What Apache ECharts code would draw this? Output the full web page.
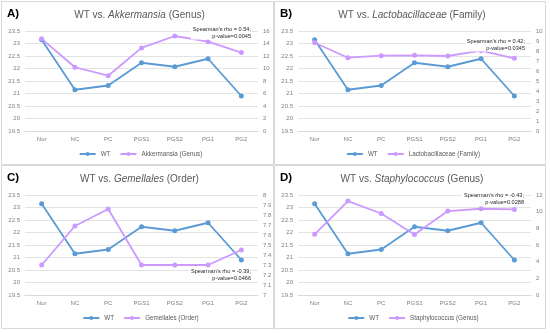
<!DOCTYPE html>
<html>
<head>
<meta charset="utf-8">
<script src="https://cdn.jsdelivr.net/npm/echarts@6/dist/echarts.min.js"></script>
<style>html,body{margin:0;padding:0;background:#fff}#chart{width:550px;height:333px}</style>
</head>
<body>
<div id="chart"></div>
<script>
const categories = ['Nor', 'NC', 'PC', 'PGS1', 'PGS2', 'PG1', 'PG2'];
const wtValues = [23.15, 21.15, 21.32, 22.23, 22.07, 22.39, 20.9];
const akkermansiaValues = [14.75, 10.2, 8.85, 13.3, 15.2, 14.3, 12.55];
const lactobacillaceaeValues = [8.83, 7.33, 7.53, 7.57, 7.5, 8.03, 7.27];
const gemellalesValues = [7.3, 7.69, 7.86, 7.3, 7.3, 7.3, 7.45];
const staphylococcusValues = [7.28, 11.27, 9.78, 7.25, 10.07, 10.35, 10.27];

const leftAxisRange = [19.5, 23.5, 0.5];
const panelLabels = ['A)', 'B)', 'C)', 'D)'];
const taxonNames = ['Akkermansia', 'Lactobacillaceae', 'Gemellales', 'Staphylococcus'];
const taxonRanks = ['(Genus)', '(Family)', '(Order)', '(Genus)'];
const taxonValues = [akkermansiaValues, lactobacillaceaeValues, gemellalesValues, staphylococcusValues];
const rightAxisRanges = [[0, 16, 2], [0, 10, 1], [7, 8, 0.1], [0, 12, 2]];
const rhoTexts = ["Spearman's rho = 0.54;", "Spearman's rho = 0.42;", "Spearman's rho = -0.39;", "Spearman's rho = -0.43;"];
const pTexts = ['p-value=0.0045', 'p-value=0.0345', 'p-value=0.0466', 'p-value=0.0288'];

const FONT = 'Liberation Sans';
const BLUE = '#5B9BD5';
const PURPLE = '#CC99FF';
const panels = [
  { L: 1, T: 1, W: 273, H: 164 },
  { L: 274, T: 1, W: 272, H: 164 },
  { L: 1, T: 165, W: 273, H: 164 },
  { L: 274, T: 165, W: 272, H: 164 }
];
const annoPos = [[252, 25.5], [526, 37.5], [252, 267.5], [525, 191.5]];

const measureCtx = document.createElement('canvas').getContext('2d');
function textW(t, size) { measureCtx.font = size + 'px "' + FONT + '"'; return measureCtx.measureText(t).width; }

const chart = echarts.init(document.getElementById('chart'), null, { renderer: 'canvas' });
const grid = [], xAxis = [], yAxis = [], series = [], legend = [], graphic = [];
const legendFont = 6.3, itemW = 16, itemGap = 9;

panels.forEach((p, i) => {
  const gl = p.L + 24, gw = 233, gt = p.T + 30, gh = 100;
  grid.push({ left: gl, top: gt, width: gw, height: gh, containLabel: false });
  xAxis.push({
    type: 'category', gridIndex: i, data: categories, boundaryGap: true,
    axisLine: { show: true, lineStyle: { color: '#D9D9D9', width: 1 } },
    axisTick: { show: false },
    axisLabel: { color: '#7F7F7F', fontSize: 6, fontFamily: FONT, margin: 5 }
  });
  yAxis.push({
    type: 'value', gridIndex: i, position: 'left',
    min: leftAxisRange[0], max: leftAxisRange[1], interval: leftAxisRange[2],
    axisLine: { show: false }, axisTick: { show: false },
    splitLine: { show: true, lineStyle: { color: '#E3E3E3', width: 1 } },
    axisLabel: { color: '#7F7F7F', fontSize: 6, fontFamily: FONT, margin: 5 }
  });
  const r = rightAxisRanges[i];
  yAxis.push({
    type: 'value', gridIndex: i, position: 'right',
    min: r[0], max: r[1], interval: r[2],
    axisLine: { show: false }, axisTick: { show: false },
    splitLine: { show: false },
    axisLabel: { color: '#7F7F7F', fontSize: 6, fontFamily: FONT, margin: 5,
      formatter: v => String(Math.round(v * 1000) / 1000) }
  });
  const sname = taxonNames[i] + ' ' + taxonRanks[i];
  series.push({
    name: 'WT', type: 'line', xAxisIndex: i, yAxisIndex: i * 2, data: wtValues,
    symbol: 'circle', symbolSize: 5, lineStyle: { color: BLUE, width: 1.8 },
    itemStyle: { color: BLUE }, animation: false, z: 2
  });
  series.push({
    name: sname, type: 'line', xAxisIndex: i, yAxisIndex: i * 2 + 1, data: taxonValues[i],
    symbol: 'circle', symbolSize: 5, lineStyle: { color: PURPLE, width: 1.8 },
    itemStyle: { color: PURPLE }, animation: false, z: 2
  });
  const lw = itemW + 5 + textW('WT', legendFont) + itemGap + itemW + 5 + textW(sname, legendFont);
  const cx = p.L + p.W / 2 + 2;
  legend.push({
    data: ['WT', sname], left: cx - lw / 2, top: p.T + 150,
    itemWidth: itemW, itemHeight: 5, itemGap: itemGap, padding: 0,
    textStyle: { color: '#595959', fontSize: legendFont, fontFamily: FONT },
    selectedMode: false
  });
  graphic.push({
    type: 'rect', shape: { x: p.L + 0.5, y: p.T + 0.5, width: p.W - 1, height: p.H - 1 },
    style: { fill: null, stroke: '#D9D9D9', lineWidth: 1 }, silent: true
  });
  graphic.push({
    type: 'text', x: p.L + 6, y: p.T + 13,
    style: { text: panelLabels[i], font: 'bold 11.5px "' + FONT + '"', fill: '#000', verticalAlign: 'middle' }
  });
  graphic.push({
    type: 'text', x: p.L + p.W / 2 + 2, y: p.T + 14,
    style: {
      text: '{n|WT vs. }{i|' + taxonNames[i] + '}{n| ' + taxonRanks[i] + '}',
      align: 'center', verticalAlign: 'middle',
      rich: {
        n: { fontSize: 10, fontFamily: FONT, fill: '#595959', color: '#595959' },
        i: { fontSize: 10, fontFamily: FONT, fontStyle: 'italic', fill: '#595959', color: '#595959' }
      }
    }
  });
  graphic.push({
    type: 'text', x: annoPos[i][0], y: annoPos[i][1], z: 10,
    style: {
      text: rhoTexts[i] + '\n' + pTexts[i],
      font: '5.6px "' + FONT + '"', fill: '#262626', align: 'right', verticalAlign: 'top',
      lineHeight: 7, backgroundColor: '#fff', padding: [0, 1, 0, 2]
    }
  });
});

chart.setOption({
  animation: false,
  backgroundColor: '#fff',
  grid, xAxis, yAxis, series, legend, graphic
});
</script>
</body>
</html>
